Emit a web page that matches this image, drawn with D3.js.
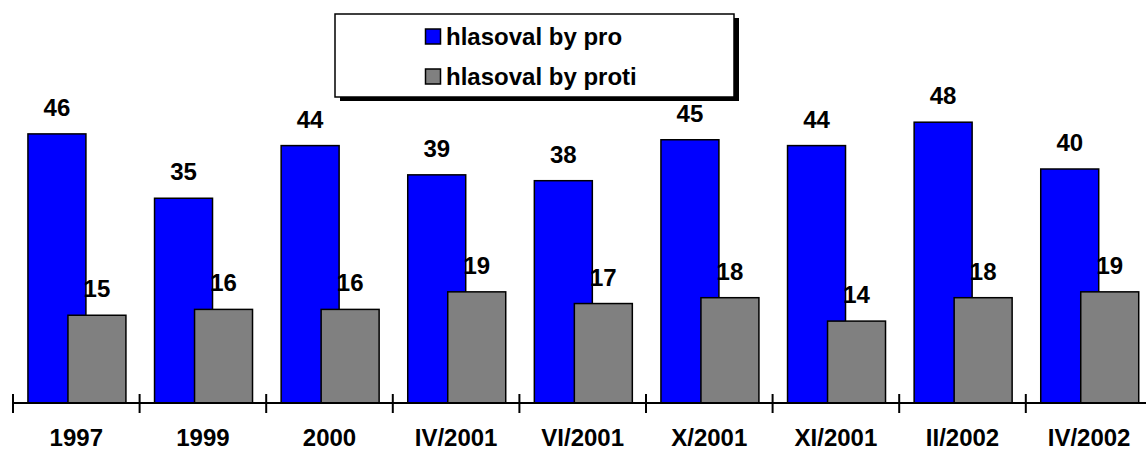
<!DOCTYPE html>
<html>
<head>
<meta charset="utf-8">
<script src="https://cdn.jsdelivr.net/npm/d3@7/dist/d3.min.js"></script>
<style>
  html, body { margin: 0; padding: 0; background: #fff; }
  svg { display: block; }
  text { font-family: "Liberation Sans", Arial, sans-serif; font-weight: bold; fill: #000; }
</style>
</head>
<body>
<svg id="chart" width="1146" height="452"></svg>
<script>
const categories = ["1997", "1999", "2000", "IV/2001", "VI/2001", "X/2001", "XI/2001", "II/2002", "IV/2002"];
const seriesNames = ["hlasoval by pro", "hlasoval by proti"];
const proValues = [46, 35, 44, 39, 38, 45, 44, 48, 40];
const protiValues = [15, 16, 16, 19, 17, 18, 14, 18, 19];
const seriesColors = ["#0000FF", "#808080"];

const svg = d3.select("#chart");
const W = 1146, H = 452;
const baseY = 403;
const x = d3.scaleBand().domain(categories).range([13, 13 + 9 * 126.6]).padding(0);
const y = d3.scaleLinear().domain([0, 60]).range([baseY, baseY - 60 * 5.85]);
const bw = x.bandwidth();
const barW = bw * 0.458;
const offsets = [bw * 0.118, bw * 0.434];
const series = [proValues, protiValues];

const fontSize = 24;

// bars per category: blue then gray on top
categories.forEach((c, i) => {
  series.forEach((vals, s) => {
    svg.append("rect")
      .attr("x", x(c) + offsets[s])
      .attr("y", y(vals[i]))
      .attr("width", barW)
      .attr("height", y(0) - y(vals[i]))
      .attr("fill", seriesColors[s])
      .attr("stroke", "#000")
      .attr("stroke-width", 1.5);
  });
});

// value labels
categories.forEach((c, i) => {
  series.forEach((vals, s) => {
    svg.append("text")
      .attr("x", x(c) + offsets[s] + barW / 2)
      .attr("y", y(vals[i]) - 18)
      .attr("text-anchor", "middle")
      .attr("font-size", fontSize)
      .text(vals[i]);
  });
});

// axis
const ag = svg.append("g").attr("transform", `translate(0,${baseY})`);
ag.append("line").attr("x1", 13).attr("x2", W).attr("y1", 0).attr("y2", 0)
  .attr("stroke", "#000").attr("stroke-width", 2);
const boundaries = categories.map(c => x(c)).concat([x.range()[1]]);
ag.selectAll("line.tick").data(boundaries).enter().append("line")
  .attr("class", "tick")
  .attr("x1", d => d).attr("x2", d => d)
  .attr("y1", -9).attr("y2", 10)
  .attr("stroke", "#000").attr("stroke-width", 2);
ag.selectAll("text.cat").data(categories).enter().append("text")
  .attr("class", "cat")
  .attr("x", d => x(d) + bw / 2)
  .attr("y", 43)
  .attr("text-anchor", "middle")
  .attr("font-size", fontSize)
  .text(d => d);

// legend
const lg = svg.append("g");
const lx = 335, ly = 14, lw = 399, lh = 83;
lg.append("rect").attr("x", lx + 5).attr("y", ly + 4).attr("width", lw).attr("height", lh).attr("fill", "#000");
lg.append("rect").attr("x", lx).attr("y", ly).attr("width", lw).attr("height", lh)
  .attr("fill", "#fff").attr("stroke", "#000").attr("stroke-width", 1.5);
seriesNames.forEach((n, i) => {
  const ry = 29 + i * 40;
  lg.append("rect").attr("x", 425.5).attr("y", ry).attr("width", 15).attr("height", 15)
    .attr("fill", seriesColors[i]).attr("stroke", "#000").attr("stroke-width", 1.5);
  lg.append("text").attr("x", 446).attr("y", ry + 16)
    .attr("font-size", fontSize).text(n);
});
</script>
</body>
</html>
